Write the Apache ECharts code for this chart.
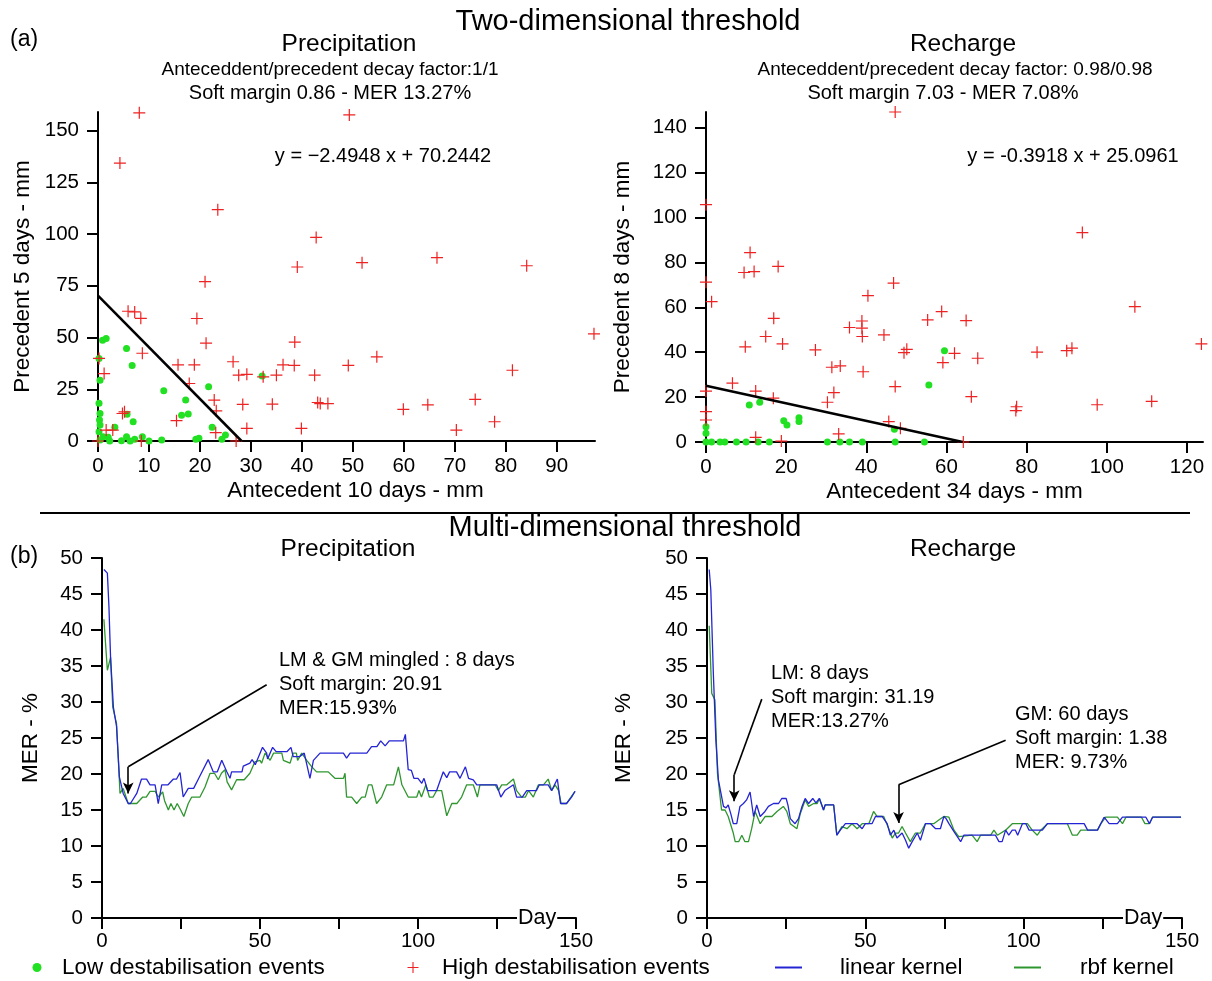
<!DOCTYPE html>
<html>
<head>
<meta charset="utf-8">
<script src="https://cdn.jsdelivr.net/npm/echarts@6/dist/echarts.min.js"></script>
<style>
  html, body { margin: 0; padding: 0; background: #fff; }
  #chart { width: 1212px; height: 981px; }
</style>
</head>
<body>
<div id="chart"></div>
<script>
// ---- data ----
// (a) precipitation: [antecedent 10 days, precedent 5 days] in mm
const precipLow = [[0.9,48.7],[1.6,49.5],[5.6,44.7],[6.7,36.5],[0.2,39.9],[0.4,29.4],[12.9,24.3],[21.7,26.2],[17.2,19.8],[32.2,31.4],[0.2,18.2],[0.4,13.3],[5.7,12.9],[16.4,12.5],[17.7,13.0],[6.9,9.3],[0.3,10.1],[3.3,6.6],[22.4,6.6],[25.0,2.9],[24.3,0.8],[0.2,4.5],[1.0,2.1],[2.0,1.8],[5.6,2.1],[7.2,0.8],[8.7,2.1],[10.0,0],[12.5,0.5],[19.2,0.8],[19.8,1.3],[4.6,0.1],[6.3,0],[0.4,0.5],[2.3,0],[0.4,7.7]]
const precipHigh = [[8.1,158.6],[4.3,134.3],[23.5,111.8],[42.8,98.4],[39.1,84.1],[21.0,77.0],[5.9,62.7],[7.2,62.4],[8.4,59.3],[19.4,59.2],[21.2,47.3],[38.6,47.8],[8.7,42.4],[0.2,39.9],[1.2,32.6],[15.7,36.8],[18.9,36.8],[26.5,38.3],[36.3,36.8],[38.5,36.5],[27.6,31.8],[29.2,32.2],[32.4,31.0],[35.0,31.8],[42.5,31.8],[49.1,36.5],[17.9,27.8],[22.8,19.8],[23.2,14.6],[28.4,17.7],[34.2,17.8],[43.1,18.6],[43.6,18.1],[45.1,18.1],[4.8,13.3],[5.2,14.1],[15.4,9.8],[29.2,6.1],[39.9,6.1],[1.6,5.3],[2.9,5.3],[23.1,4.0],[0,0],[8.5,0],[27.1,0],[49.3,157.6],[51.8,86.2],[66.5,88.6],[84.1,84.7],[97.3,51.8],[54.7,40.7],[81.3,34.2],[59.9,15.3],[64.7,17.5],[74.0,20.1],[77.8,9.3],[70.3,5.3]]
// (a) recharge: [antecedent 34 days, precedent 8 days] in mm
const rechLow = [[59.5,40.7],[55.6,25.4],[10.8,16.5],[13.4,17.7],[19.4,9.5],[20.2,7.6],[23.2,10.8],[23.2,9.1],[0,6.8],[0,3.9],[47.0,5.7],[0,0],[1.4,0],[3.5,0],[4.7,0],[7.6,0],[10.0,0],[13.0,0],[15.8,0],[30.3,0],[33.4,0],[35.8,0],[39.0,0],[47.2,0],[54.5,0]]
const rechHigh = [[47.2,147.0],[0,105.7],[11.0,84.4],[9.5,75.5],[12.0,75.9],[18.0,78.2],[0,71.2],[1.4,62.5],[46.8,70.8],[40.4,65.2],[16.9,55.1],[35.8,51.0],[38.9,53.9],[38.9,50.7],[39.0,47.0],[44.4,47.7],[55.3,54.4],[58.8,58.1],[14.9,47.0],[9.8,42.4],[19.1,43.7],[27.3,41.0],[49.4,39.8],[50.1,41.3],[59.1,35.4],[31.4,33.3],[33.5,33.9],[39.2,31.3],[6.6,26.2],[0,22.7],[12.4,22.7],[47.2,24.7],[31.9,22.0],[16.8,19.5],[30.3,17.7],[0,13.5],[0,9.8],[45.6,9.1],[48.5,6.1],[33.1,3.6],[12.4,2.1],[18.8,0.4],[93.9,93.3],[107.0,60.3],[64.9,54.1],[62.0,39.5],[67.8,37.3],[82.6,40.0],[90.0,40.7],[91.3,41.8],[123.6,43.7],[66.2,20.2],[77.5,15.7],[77.3,14.0],[97.6,16.6],[111.2,18.1],[64.2,0]]
// threshold lines y = slope * x + intercept
const precipThreshold = { slope: -2.4948, intercept: 70.2442 }
const rechThreshold = { slope: -0.3918, intercept: 25.0961 }

// (b) MER (%) against day
const precipLinear = [[0.6,48.4],[1.7,47.9],[2.2,43.2],[2.7,36.3],[3.6,29.3],[4.6,26.6],[5.5,19.6],[6.7,17.3],[8.3,15.9],[9,15.9],[11,17.3],[12.5,19.3],[14.1,19.3],[15.2,18.5],[16.8,18.5],[17.8,15.9],[18.9,18.5],[20.9,18.5],[22.6,19.3],[23.6,19.3],[24.7,20.2],[25.7,16.8],[27.3,18.0],[29,18.0],[30.5,19.3],[33.6,22.0],[35.2,20.3],[36.5,20.3],[37.9,21.9],[39.5,20.3],[40.5,19.4],[41,20.3],[44.3,20.3],[44.7,21.1],[46.8,21.5],[47.5,22.0],[48.5,21.3],[50.8,23.7],[52.1,22.9],[52.4,22.1],[54,23.7],[55.1,23.1],[58.5,23.1],[59.8,23.7],[60.5,22.4],[62.5,22.4],[64,22.9],[65.8,19.4],[66.9,21.9],[69,22.9],[76.4,22.9],[77.4,22.2],[78.5,22.9],[83.8,22.9],[85.3,23.8],[87,23.8],[88.2,24.6],[89.6,23.9],[90.9,24.6],[95.4,24.6],[96,25.5],[96.9,20.6],[97.9,20.5],[98.7,19.4],[100,19.4],[101.2,18.7],[101.9,19.4],[102.5,18.5],[103,17.7],[105.9,17.7],[108,20.3],[109.1,19.5],[110,20.3],[112.2,20.3],[113.3,19.4],[115,21.0],[116,19.4],[117.5,19.2],[118.6,18.5],[124.9,18.5],[126.2,16.8],[127.5,17.7],[130.2,18.5],[131.2,16.8],[133,16.8],[134.4,17.7],[137.5,17.7],[138.4,18.5],[141.2,18.5],[142.3,17.7],[144.1,19.3],[145.1,15.9],[147,15.9],[148.6,16.8],[149.7,17.6]]
const precipRbf = [[0.6,41.5],[1.7,34.4],[2.7,36.2],[3.4,29.3],[4.6,27.0],[5.7,17.3],[6.7,18.0],[8.3,15.9],[11,15.9],[12.9,16.8],[14,16.8],[15.2,17.6],[16.8,17.6],[17.8,16.8],[19.2,17.5],[19.8,16.3],[21,15.0],[21.8,15.9],[22.8,15.0],[23.8,15.9],[24.9,15.0],[25.9,14.1],[27.3,15.9],[28.4,16.8],[31,16.8],[32.6,18.2],[34.2,20.1],[35.6,20.1],[36.8,19.2],[37.8,20.1],[38.9,20.6],[39.6,18.9],[41,17.8],[42.6,19.2],[45,19.2],[46.8,20.1],[48.4,21.7],[50,21.9],[50.5,21.5],[51.6,22.9],[53.2,21.9],[54.3,22.9],[56.9,22.9],[57.4,21.9],[59.5,21.5],[60.5,22.9],[61.5,22.9],[61.9,21.9],[63.2,22.9],[64.8,21.9],[66.2,21.1],[67.9,20.3],[71.6,20.3],[73.7,19.4],[76.4,19.4],[76.9,20.1],[77.4,16.8],[79,16.8],[80.6,15.9],[82.2,16.8],[83.3,16.8],[84.3,18.5],[85.4,18.5],[86.9,15.9],[88.5,16.8],[90.1,18.5],[92.3,18.5],[93.8,21.0],[94.9,18.5],[96.9,16.8],[99.6,16.8],[100.3,17.7],[101.1,16.8],[102.5,18.5],[103.6,16.8],[104.8,16.8],[105.9,17.7],[107.5,17.7],[109.1,14.2],[110.7,15.9],[112.3,15.9],[113.8,16.8],[115.4,18.5],[117.5,18.5],[118.8,16.8],[119.6,18.5],[124.4,18.5],[125.4,17.7],[126.5,18.5],[128.1,18.5],[130.2,19.3],[131.2,17.7],[132.8,16.8],[134,16.8],[135,17.7],[136.5,16.8],[138.1,18.5],[139.7,18.5],[141.2,19.3],[142.3,17.7],[143.4,18.5],[144.5,17.7],[145.3,15.9],[147,15.9],[148.4,16.8],[149.7,17.6]]
const rechLinear = [[0.7,48.4],[1.2,45.6],[2.0,34.0],[2.8,24.7],[3.6,19.2],[5.2,15.5],[6,15.3],[6.7,15.7],[7.5,14.5],[8.3,13.1],[9.4,13.1],[10.4,15.5],[11.5,15.9],[12.5,16.4],[13.6,17.5],[14.7,14.1],[15.7,15.7],[16.8,14.1],[18.3,14.8],[19.4,15.5],[21,15.9],[22.6,15.9],[23.6,16.6],[25,16.6],[25.6,15.6],[26.3,13.8],[27.8,13.1],[28.9,13.8],[30,15.5],[31,16.6],[32.1,15.9],[33.4,16.6],[34.4,16.0],[35.5,16.6],[36.8,15.0],[37.3,15.7],[40,15.7],[41,11.5],[42.1,12.2],[43.7,13.1],[47.4,13.1],[49,12.4],[50,13.1],[52.1,13.1],[53.2,14.1],[55.3,14.1],[56.9,13.1],[57.9,11.5],[59,12.2],[60,11.1],[61.6,11.8],[62.7,10.8],[63.7,9.7],[64.8,10.6],[66.4,11.8],[67.4,10.8],[69,13.1],[70.6,13.1],[72.2,12.4],[73.7,12.4],[74.8,14.1],[75.5,13.8],[76.4,13.1],[78,12.0],[80.1,10.6],[81.1,11.5],[91.1,11.5],[92.2,10.6],[93.2,10.6],[94.3,12.2],[95.3,11.5],[96.4,12.2],[97.4,12.2],[98.1,11.5],[99.6,13.1],[100.7,13.1],[101.7,12.2],[105.9,12.2],[107.5,13.1],[119.1,13.1],[120.2,12.2],[123.3,12.2],[125.4,14.0],[127,13.1],[129.6,13.1],[131.2,14.0],[138.6,14.0],[139.7,13.1],[140.7,14.0],[149.7,14.0]]
const rechRbf = [[0.7,40.6],[1.5,31.2],[2.5,30.3],[3.3,20.1],[4.6,15.0],[5.7,15.0],[6.7,14.1],[8.3,11.8],[8.9,10.6],[10,10.6],[11,11.5],[12,10.6],[13.1,10.6],[14.1,12.4],[15.2,14.8],[16.8,13.1],[18.4,14.1],[20.5,14.1],[22.1,14.8],[24.1,15.5],[25.2,14.8],[26.3,13.1],[28.4,12.4],[29.4,14.4],[31,16.4],[32.1,15.5],[33.7,15.9],[34.8,15.9],[35.5,16.6],[36.8,15.0],[37.3,15.7],[40,15.7],[41,11.5],[42.6,12.7],[44.2,12.4],[45.8,13.1],[47.4,12.4],[49,13.1],[51.1,13.1],[52.6,14.8],[53.7,14.1],[55.8,14.1],[57.4,12.4],[58.5,11.1],[59.5,11.8],[60.5,11.8],[61.6,12.7],[62.7,11.8],[64.2,10.6],[65.8,11.8],[67.4,11.8],[69,13.1],[71.6,13.1],[73.2,13.6],[74.8,14.1],[76.4,14.0],[78,12.2],[79.5,11.3],[83.7,11.5],[85.3,10.6],[86.4,11.5],[89.6,11.5],[90.6,12.2],[91.7,11.5],[94.3,12.2],[96.4,13.1],[101.2,13.1],[102.7,12.2],[104.3,11.5],[105.4,12.2],[107.5,13.1],[113.8,13.1],[115.4,11.5],[116.9,11.5],[118,12.2],[123.3,12.2],[124.4,13.1],[125.9,14.0],[129.6,14.0],[131.2,13.1],[132.3,14.0],[137.2,14.0],[138.3,13.1],[139.7,13.1],[140.7,14.0],[149.7,14.0]]

// annotation arrows (day, MER) from the text to the chosen day
const arrowPrecip = [[52.1,32.4],[8.3,21.0],[8.3,17.3]]
const arrowRechLM = [[17.3,30.4],[8.6,19.9],[8.6,16.2]]
const arrowRechGM = [[94.3,24.7],[60.5,18.5],[60.5,13.2]]

// tick values
const precipXTicks = [0,10,20,30,40,50,60,70,80,90]
const precipYTicks = [0,25,50,75,100,125,150]
const rechXTicks = [0,20,40,60,80,100,120]
const rechYTicks = [0,20,40,60,80,100,120,140]
const dayTicks = [0,25,50,75,100,125,150]
const dayLabels = [0,50,100,150]
const merTicks = [0,5,10,15,20,25,30,35,40,45,50]

const FONT = 'Liberation Sans, Arial, sans-serif'
const RED = '#ee2222'
const GREEN_DOT = '#22e022'
const BLUE = '#2424d4'
const GREEN_LINE = '#2f962f'
const PLUS = 'path://M5.4,0H6.6V5.4H12V6.6H6.6V12H5.4V6.6H0V5.4H5.4Z'

function axisBase (gridIndex, min, max, ticks, labels, name, nameGap, margin, extra) {
    return Object.assign({
        type: 'value',
        gridIndex,
        min,
        max,
        name,
        nameLocation: 'middle',
        nameGap,
        nameMoveOverlap: false,
        nameTextStyle: { fontSize: 22.5, color: '#000', fontFamily: FONT },
        axisLine: { show: true, onZero: false, lineStyle: { color: '#000', width: 2 } },
        axisTick: { show: true, length: 11, customValues: ticks, lineStyle: { color: '#000', width: 2 } },
        axisLabel: { color: '#000', fontSize: 20.5, fontFamily: FONT, margin, customValues: labels || ticks },
        splitLine: { show: false }
    }, extra || {})
}

function thresholdLine (t) {
    return [[0, t.intercept], [-t.intercept / t.slope, 0]]
}

function arrowSegments (path) {
    const segs = []
    for (let i = 0; i < path.length - 1; i++) {
        segs.push([
            { coord: path[i], symbol: 'none' },
            { coord: path[i + 1], symbol: i === path.length - 2 ? 'arrow' : 'none' }
        ])
    }
    return segs
}

function arrowMark (paths) {
    let data = []
    paths.forEach(p => { data = data.concat(arrowSegments(p)) })
    return {
        silent: true,
        symbolSize: [8, 11],
        label: { show: false },
        emphasis: { disabled: true },
        lineStyle: { color: '#000', width: 1.6, type: 'solid' },
        data
    }
}

function text (t, x, y, size, align, extraStyle) {
    return {
        type: 'text',
        x,
        y,
        z: 100,
        style: Object.assign({
            text: t,
            fill: '#000',
            font: size + 'px ' + FONT,
            textAlign: align || 'center',
            textVerticalAlign: 'middle',
            align: align || 'center',
            verticalAlign: 'middle'
        }, extraStyle || {})
    }
}

const legendText = (pad) => ({ fontSize: 22.5, color: '#000', fontFamily: FONT, padding: [0, 0, 0, pad] })

const chart = echarts.init(document.getElementById('chart'))
const option = {
    animation: false,
    backgroundColor: '#fff',
    grid: [
        { left: 98, top: 112, width: 497, height: 329, outerBoundsMode: 'none' },
        { left: 706, top: 112, width: 497, height: 330, outerBoundsMode: 'none' },
        { left: 102, top: 558, width: 474, height: 360, outerBoundsMode: 'none' },
        { left: 707, top: 558, width: 475, height: 360, outerBoundsMode: 'none' }
    ],
    xAxis: [
        axisBase(0, 0, 97.5, precipXTicks, null, 'Antecedent 10 days - mm', 38, 15,
            { nameTextStyle: { fontSize: 22.5, color: '#000', fontFamily: FONT, padding: [0, 0, 0, 18] } }),
        axisBase(1, 0, 124, rechXTicks, null, 'Antecedent 34 days - mm', 38, 15),
        axisBase(2, 0, 150, dayTicks, dayLabels, '', 0, 13),
        axisBase(3, 0, 150, dayTicks, dayLabels, '', 0, 13)
    ],
    yAxis: [
        axisBase(0, 0, 159, precipYTicks, null, 'Precedent 5 days - mm', 64, 19),
        axisBase(1, 0, 147, rechYTicks, null, 'Precedent 8 days - mm', 72, 19),
        axisBase(2, 0, 50, merTicks, null, 'MER - %', 60, 19),
        axisBase(3, 0, 50, merTicks, null, 'MER - %', 72, 19)
    ],
    legend: [
        { data: ['Low destabilisation events'], left: 32.5, top: 956, padding: 0, icon: 'circle', itemWidth: 9, itemHeight: 9,
          textStyle: legendText(15.5) },
        { data: ['High destabilisation events'], left: 407.5, top: 956, padding: 0, icon: PLUS, itemWidth: 11, itemHeight: 11,
          textStyle: legendText(18.5) },
        { data: ['linear kernel'], left: 775, top: 956, padding: 0, icon: 'rect', itemWidth: 27, itemHeight: 2,
          textStyle: legendText(33) },
        { data: ['rbf kernel'], left: 1014, top: 956, padding: 0, icon: 'rect', itemWidth: 27, itemHeight: 2,
          textStyle: legendText(34) }
    ],
    series: [
        { type: 'line', xAxisIndex: 0, yAxisIndex: 0, data: thresholdLine(precipThreshold), symbol: 'none', silent: true,
          lineStyle: { color: '#000', width: 2.5 } },
        { name: 'Low destabilisation events', type: 'scatter', xAxisIndex: 0, yAxisIndex: 0, data: precipLow,
          symbol: 'circle', symbolSize: 7, itemStyle: { color: GREEN_DOT, opacity: 1 } },
        { name: 'High destabilisation events', type: 'scatter', xAxisIndex: 0, yAxisIndex: 0, data: precipHigh,
          symbol: PLUS, symbolSize: 12, itemStyle: { color: RED, opacity: 1 } },

        { type: 'line', xAxisIndex: 1, yAxisIndex: 1, data: thresholdLine(rechThreshold), symbol: 'none', silent: true,
          lineStyle: { color: '#000', width: 2.5 } },
        { name: 'Low destabilisation events', type: 'scatter', xAxisIndex: 1, yAxisIndex: 1, data: rechLow,
          symbol: 'circle', symbolSize: 7, itemStyle: { color: GREEN_DOT, opacity: 1 } },
        { name: 'High destabilisation events', type: 'scatter', xAxisIndex: 1, yAxisIndex: 1, data: rechHigh,
          symbol: PLUS, symbolSize: 12, itemStyle: { color: RED, opacity: 1 } },

        { name: 'rbf kernel', type: 'line', xAxisIndex: 2, yAxisIndex: 2, data: precipRbf, symbol: 'none',
          itemStyle: { color: GREEN_LINE }, lineStyle: { color: GREEN_LINE, width: 1.3 } },
        { name: 'linear kernel', type: 'line', xAxisIndex: 2, yAxisIndex: 2, data: precipLinear, symbol: 'none',
          itemStyle: { color: BLUE }, lineStyle: { color: BLUE, width: 1.3 },
          markLine: arrowMark([arrowPrecip]) },

        { name: 'rbf kernel', type: 'line', xAxisIndex: 3, yAxisIndex: 3, data: rechRbf, symbol: 'none',
          itemStyle: { color: GREEN_LINE }, lineStyle: { color: GREEN_LINE, width: 1.3 } },
        { name: 'linear kernel', type: 'line', xAxisIndex: 3, yAxisIndex: 3, data: rechLinear, symbol: 'none',
          itemStyle: { color: BLUE }, lineStyle: { color: BLUE, width: 1.3 },
          markLine: arrowMark([arrowRechLM, arrowRechGM]) }
    ],
    graphic: [
        text('Two-dimensional threshold', 628, 22, 29),
        text('(a)', 10, 40, 23, 'left'),
        text('Precipitation', 349, 44, 24.5),
        text('Anteceddent/precedent decay factor:1/1', 330, 70, 19),
        text('Soft margin 0.86 - MER 13.27%', 330, 93, 20),
        text('Recharge', 963, 44, 24.5),
        text('Anteceddent/precedent decay factor: 0.98/0.98', 955, 70, 19),
        text('Soft margin 7.03 - MER 7.08%', 943, 93, 20),
        text('y = \u22122.4948 x + 70.2442', 383, 156, 20),
        text('y = -0.3918 x + 25.0961', 1073, 156, 20),
        { type: 'line', shape: { x1: 40, y1: 513, x2: 1190, y2: 513 }, style: { stroke: '#000', lineWidth: 2 } },
        text('Multi-dimensional threshold', 625, 528, 29),
        text('(b)', 10, 557, 23, 'left'),
        text('Precipitation', 348, 549, 24.5),
        text('Recharge', 963, 549, 24.5),
        text('Day', 517, 918, 21.5, 'left', { backgroundColor: '#fff', padding: [0, 1] }),
        text('Day', 1123, 918, 21.5, 'left', { backgroundColor: '#fff', padding: [0, 1] }),
        text('LM & GM mingled : 8 days', 279, 660, 20, 'left'),
        text('Soft margin: 20.91', 279, 684, 20, 'left'),
        text('MER:15.93%', 279, 708, 20, 'left'),
        text('LM: 8 days', 771, 673, 20, 'left'),
        text('Soft margin: 31.19', 771, 697, 20, 'left'),
        text('MER:13.27%', 771, 721, 20, 'left'),
        text('GM: 60 days', 1015, 714, 20, 'left'),
        text('Soft margin: 1.38', 1015, 738, 20, 'left'),
        text('MER: 9.73%', 1015, 762, 20, 'left')
    ]
}
chart.setOption(option)
</script>
</body>
</html>
